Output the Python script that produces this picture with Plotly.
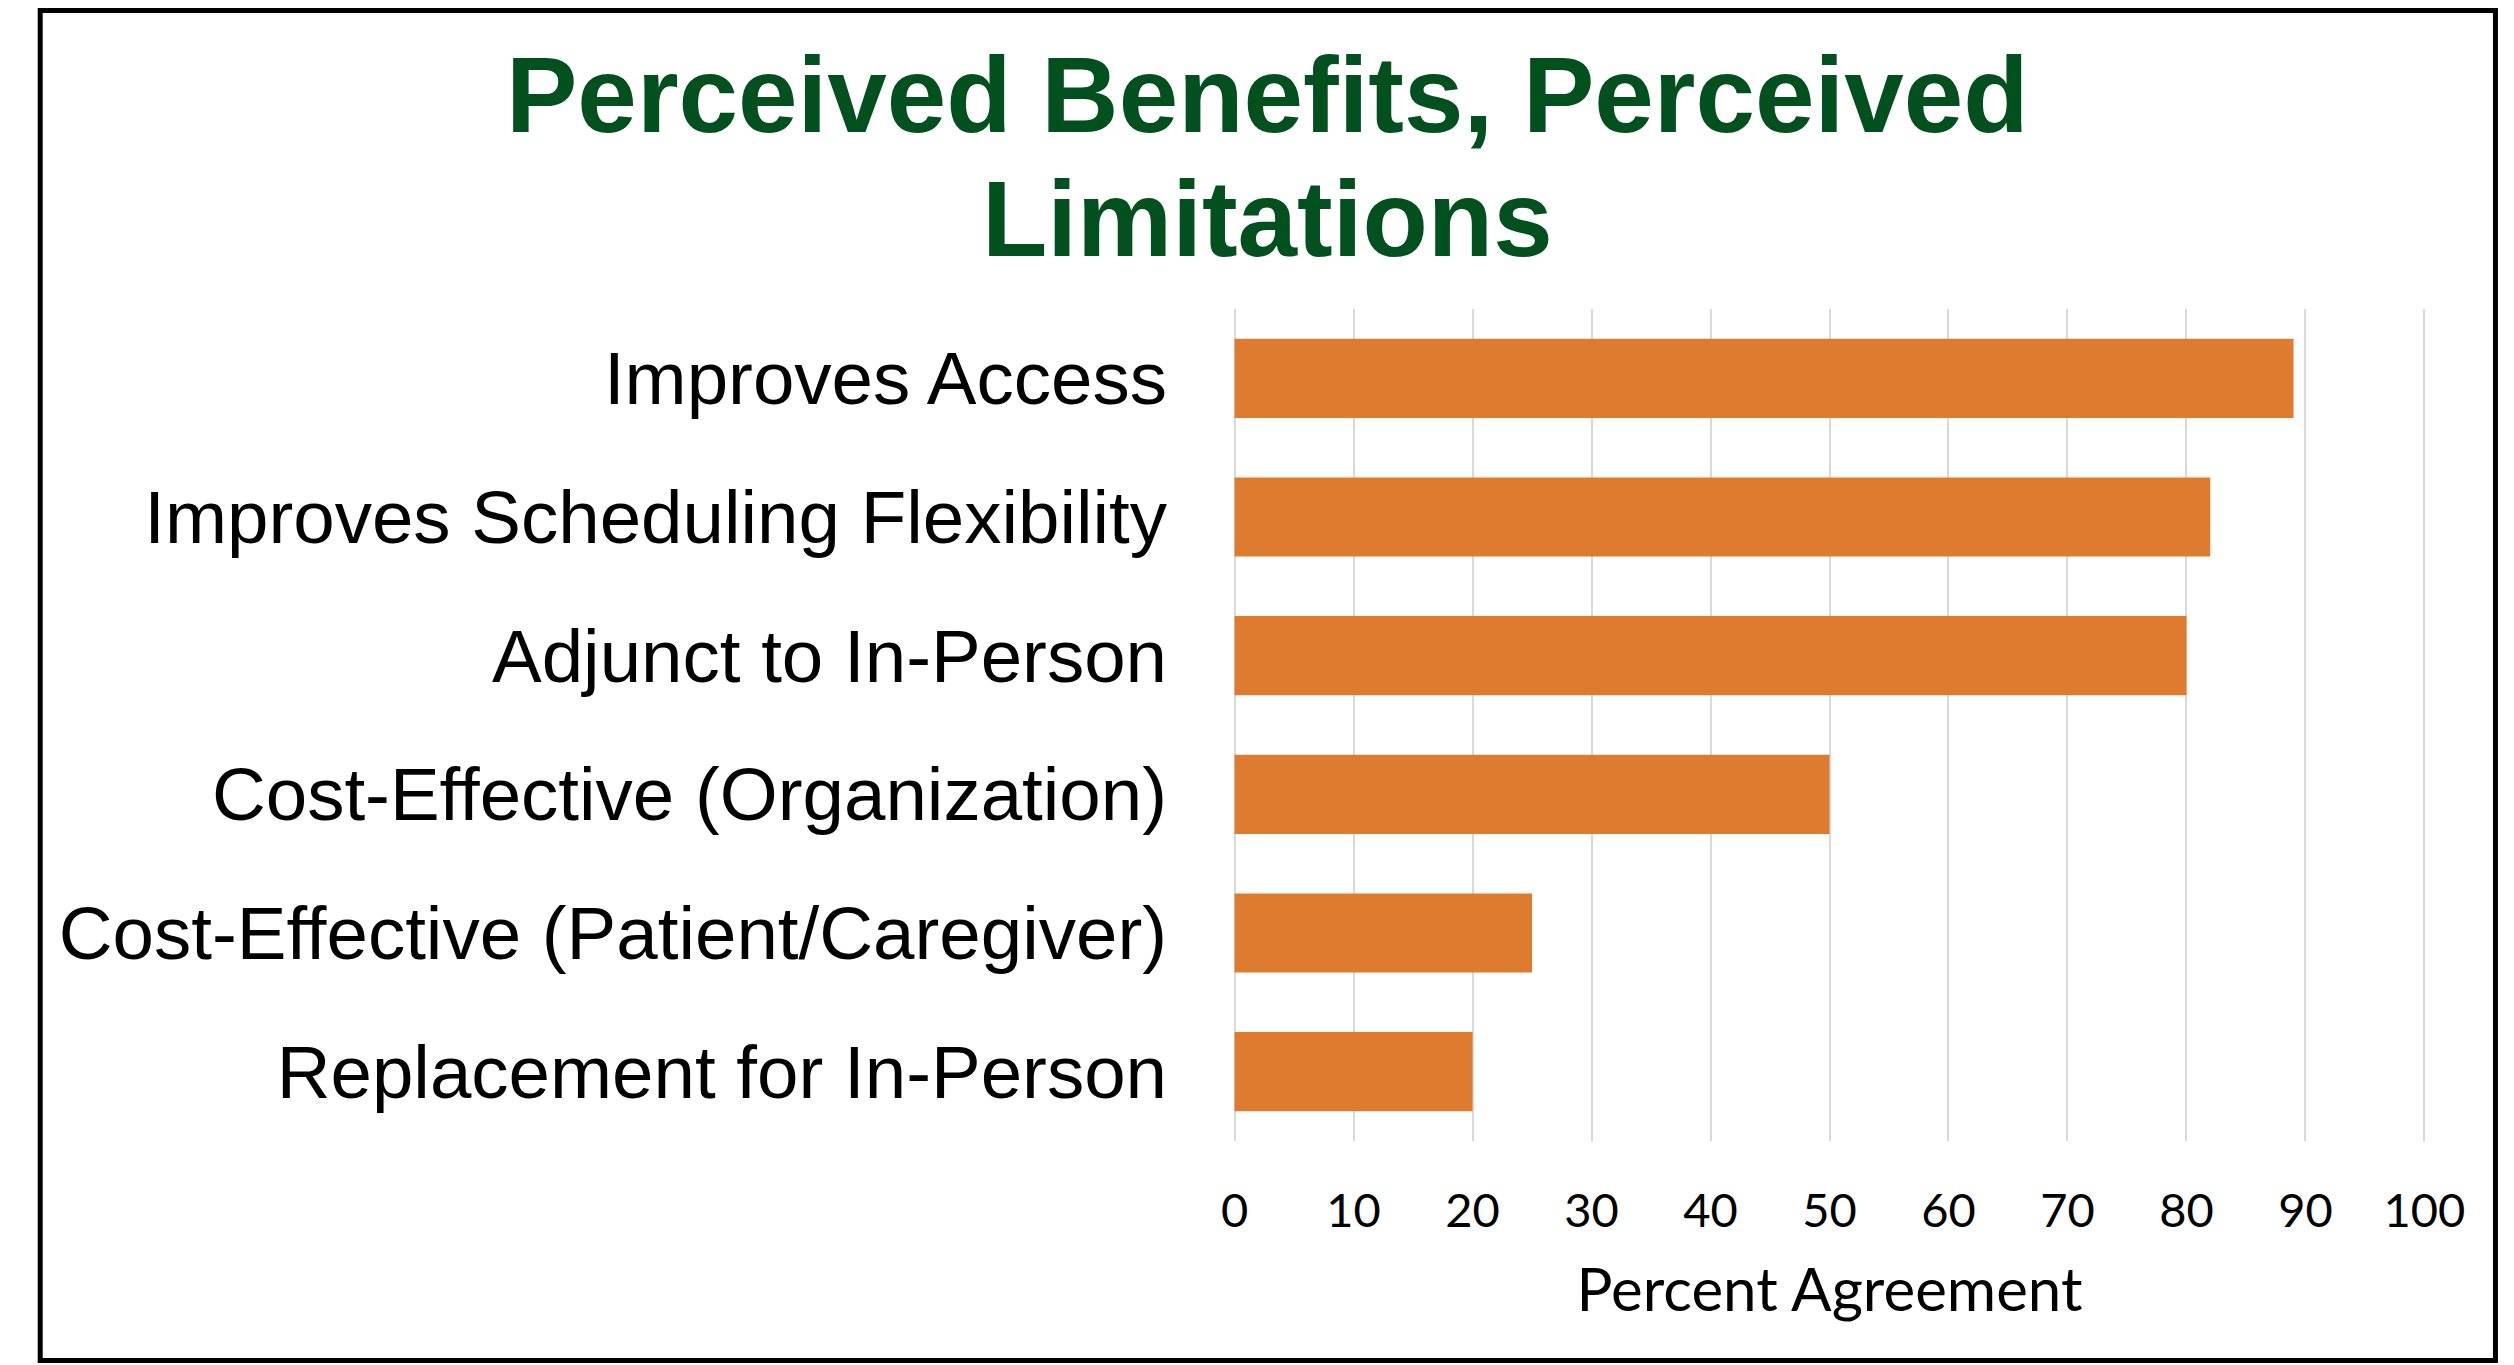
import plotly.graph_objects as go

# ---- data ----
categories = [
    "Improves Access",
    "Improves Scheduling Flexibility",
    "Adjunct to In-Person",
    "Cost-Effective (Organization)",
    "Cost-Effective (Patient/Caregiver)",
    "Replacement for In-Person",
]
values = [89, 82, 80, 50, 25, 20]
x_ticks = [0, 10, 20, 30, 40, 50, 60, 70, 80, 90, 100]
title_line1 = "Perceived Benefits, Perceived"
title_line2 = "Limitations"
x_title = "Percent Agreement"

# ---- layout geometry (pixels) ----
W, H = 2514, 1365
PAD = 0.3                       # small range padding so edge gridlines are drawn
X0PX, X100PX = 1234.5, 2424     # pixel positions of 0 and 100
UNIT = (X100PX - X0PX) / 100.0
PL, PR = X0PX - PAD * UNIT, X100PX + PAD * UNIT
PT, PB = 309, 1141


def px2x(px):
    return (px - PL) / (PR - PL)


def py2y(py):
    return (PB - py) / (PB - PT)


GREEN = "#03501F"
ORANGE = "#DE7B2F"

fig = go.Figure(
    go.Bar(
        x=values,
        y=categories,
        orientation="h",
        marker=dict(color=ORANGE, line=dict(width=0)),
        hoverinfo="x+y",
    )
)

fig.update_layout(
    width=W,
    height=H,
    margin=dict(l=PL, r=W - PR, t=PT, b=H - PB, pad=0),
    paper_bgcolor="white",
    plot_bgcolor="white",
    bargap=0.4286,
    showlegend=False,
    xaxis=dict(
        range=[-PAD, 100 + PAD],
        tickvals=x_ticks,
        ticktext=[str(t) for t in x_ticks],
        showgrid=True,
        gridcolor="#D9D9D9",
        gridwidth=1.5,
        zeroline=False,
        showline=False,
        ticks="",
        ticklabelstandoff=38,
        tickfont=dict(family="Lato", size=47, color="black"),
        title=dict(
            text=x_title,
            font=dict(family="Lato", size=60, color="black"),
            standoff=32,
        ),
        fixedrange=True,
    ),
    yaxis=dict(
        categoryorder="array",
        categoryarray=categories,
        autorange="reversed",
        showgrid=False,
        zeroline=False,
        showline=False,
        ticks="",
        ticklabelstandoff=63,
        tickfont=dict(family="Liberation Sans, Arial", size=74.5, color="black"),
        fixedrange=True,
    ),
)

# title as two centred lines
cx = px2x(1267)
fig.add_annotation(
    text=f"<b>{title_line1}</b>",
    x=cx, y=py2y(95), xref="paper", yref="paper",
    xanchor="center", yanchor="middle", showarrow=False,
    font=dict(family="Liberation Sans, Arial", size=107, color=GREEN),
)
fig.add_annotation(
    text=f"<b>{title_line2}</b>",
    x=cx, y=py2y(219), xref="paper", yref="paper",
    xanchor="center", yanchor="middle", showarrow=False,
    font=dict(family="Liberation Sans, Arial", size=107, color=GREEN),
)

# outer border
fig.add_shape(
    type="rect", xref="paper", yref="paper",
    x0=px2x(40.5), x1=px2x(2495), y0=py2y(1360.5), y1=py2y(10.5),
    line=dict(color="black", width=5), fillcolor="rgba(0,0,0,0)",
    layer="above",
)

fig.write_html(
    "out.html",
    config={"displayModeBar": False},
    post_script="document.body.style.margin='0';document.body.style.overflow='hidden';",
)
